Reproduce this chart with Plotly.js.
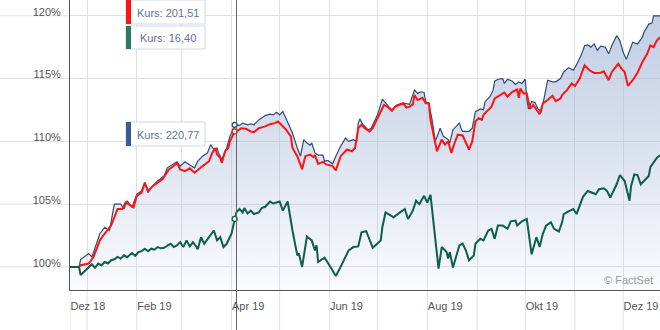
<!DOCTYPE html>
<html>
<head>
<meta charset="utf-8">
<script src="https://cdn.plot.ly/plotly-3.0.1.min.js"></script>
<style>html,body{margin:0;padding:0;background:#fff;}#chart{width:660px;height:330px;}</style>
</head>
<body>
<div id="chart"></div>
<script>
// ---- x axis ticks ----
const xRange = ['2018-12-21 09:00', '2019-12-24 00:00'];
const monthTicks = ['2018-12-21 09:00','2019-01-01','2019-02-01','2019-03-01','2019-04-01','2019-05-01','2019-06-01','2019-07-01','2019-08-01','2019-09-01','2019-10-01','2019-11-01','2019-12-01'];
const monthLabels = ['Dez 18','','Feb 19','','Apr 19','','Jun 19','','Aug 19','','Okt 19','','Dez 19'];
// ---- y axis ticks ----
const yRange = [98.16, 121.26];
const yTicks = [100, 105, 110, 115, 120];
const yLabels = ['100%', '105%', '110%', '115%', '120%'];

// ---- blue series (area) ----
const blueDates = ['2018-12-21','2018-12-27','2018-12-28','2019-01-02','2019-01-04','2019-01-07','2019-01-09','2019-01-12','2019-01-15','2019-01-18','2019-01-22','2019-01-24','2019-01-26','2019-01-29','2019-02-01','2019-02-04','2019-02-06','2019-02-08','2019-02-10','2019-02-14','2019-02-18','2019-02-20','2019-02-23','2019-02-26','2019-02-28','2019-03-03','2019-03-06','2019-03-09','2019-03-11','2019-03-14','2019-03-17','2019-03-19','2019-03-21','2019-03-23','2019-03-24','2019-03-26','2019-03-29','2019-03-31','2019-04-03','2019-04-04','2019-04-06','2019-04-08','2019-04-11','2019-04-13','2019-04-15','2019-04-18','2019-04-22','2019-04-25','2019-04-27','2019-04-29','2019-05-01','2019-05-03','2019-05-05','2019-05-09','2019-05-12','2019-05-14','2019-05-16','2019-05-18','2019-05-20','2019-05-21','2019-05-23','2019-05-25','2019-05-28','2019-05-29','2019-05-31','2019-06-03','2019-06-05','2019-06-08','2019-06-11','2019-06-13','2019-06-16','2019-06-18','2019-06-19','2019-06-20','2019-06-22','2019-06-25','2019-06-27','2019-07-01','2019-07-04','2019-07-06','2019-07-08','2019-07-10','2019-07-13','2019-07-16','2019-07-18','2019-07-21','2019-07-23','2019-07-24','2019-07-26','2019-07-28','2019-07-30','2019-07-31','2019-08-02','2019-08-04','2019-08-06','2019-08-09','2019-08-11','2019-08-14','2019-08-15','2019-08-17','2019-08-19','2019-08-21','2019-08-22','2019-08-23','2019-08-27','2019-08-29','2019-08-31','2019-09-03','2019-09-05','2019-09-06','2019-09-09','2019-09-11','2019-09-12','2019-09-14','2019-09-17','2019-09-18','2019-09-20','2019-09-23','2019-09-25','2019-09-27','2019-09-29','2019-10-01','2019-10-02','2019-10-03','2019-10-05','2019-10-07','2019-10-09','2019-10-11','2019-10-13','2019-10-15','2019-10-18','2019-10-20','2019-10-23','2019-10-25','2019-10-28','2019-10-31','2019-11-02','2019-11-05','2019-11-07','2019-11-09','2019-11-11','2019-11-13','2019-11-15','2019-11-17','2019-11-20','2019-11-22','2019-11-24','2019-11-27','2019-11-29','2019-12-01','2019-12-03','2019-12-05','2019-12-07','2019-12-10','2019-12-13','2019-12-14','2019-12-17','2019-12-19','2019-12-20','2019-12-24'];
const blueVals = [100.00,100.00,100.58,101.06,100.79,101.97,102.64,103.16,102.90,105.00,105.00,104.61,105.27,104.74,105.79,106.05,106.71,105.92,106.32,106.84,107.24,107.89,108.16,108.37,108.03,108.37,108.11,107.89,108.42,108.82,109.08,109.74,109.35,109.47,109.08,108.56,109.47,110.40,111.32,111.32,111.27,111.45,111.32,111.40,111.32,111.71,112.05,112.16,112.11,112.32,112.11,112.37,111.84,110.66,109.47,108.82,110.14,109.87,109.69,109.87,109.08,108.90,108.90,108.42,108.48,108.21,108.82,109.61,110.26,110.00,110.14,110.00,111.45,111.79,111.32,110.93,111.05,112.11,113.37,113.03,112.77,112.51,112.90,113.03,113.03,112.95,113.69,114.08,113.82,113.95,113.89,113.16,113.03,111.72,110.00,111.05,110.40,110.14,109.87,110.93,111.19,111.45,111.05,110.79,110.79,111.05,112.37,112.58,112.51,113.16,113.56,114.08,114.79,114.95,115.00,114.61,114.95,114.79,114.53,114.74,114.61,114.95,113.42,112.58,113.16,113.11,112.58,112.37,113.56,114.87,114.74,114.74,115.00,115.53,115.87,115.66,116.11,116.89,117.64,117.68,117.50,117.76,117.24,117.58,117.50,116.97,117.64,118.42,118.03,117.11,116.53,117.16,117.90,117.76,118.29,118.69,119.34,119.42,120.00,120.00];

// ---- red series ----
const redDates = ['2018-12-21','2018-12-27','2018-12-28','2019-01-02','2019-01-05','2019-01-09','2019-01-11','2019-01-14','2019-01-16','2019-01-20','2019-01-23','2019-01-25','2019-01-28','2019-01-30','2019-02-01','2019-02-04','2019-02-06','2019-02-08','2019-02-11','2019-02-14','2019-02-17','2019-02-21','2019-02-24','2019-02-26','2019-02-28','2019-03-03','2019-03-06','2019-03-09','2019-03-12','2019-03-14','2019-03-18','2019-03-20','2019-03-22','2019-03-23','2019-03-25','2019-03-26','2019-03-28','2019-03-30','2019-03-31','2019-04-02','2019-04-03','2019-04-05','2019-04-07','2019-04-10','2019-04-13','2019-04-15','2019-04-18','2019-04-22','2019-04-25','2019-04-28','2019-04-30','2019-05-02','2019-05-05','2019-05-08','2019-05-09','2019-05-12','2019-05-15','2019-05-17','2019-05-20','2019-05-22','2019-05-23','2019-05-25','2019-05-28','2019-05-30','2019-06-03','2019-06-05','2019-06-08','2019-06-12','2019-06-15','2019-06-17','2019-06-19','2019-06-21','2019-06-23','2019-06-26','2019-06-28','2019-07-02','2019-07-05','2019-07-07','2019-07-10','2019-07-12','2019-07-15','2019-07-17','2019-07-19','2019-07-21','2019-07-23','2019-07-24','2019-07-26','2019-07-29','2019-07-31','2019-08-02','2019-08-03','2019-08-07','2019-08-10','2019-08-12','2019-08-14','2019-08-16','2019-08-18','2019-08-20','2019-08-23','2019-08-27','2019-08-29','2019-08-31','2019-09-02','2019-09-04','2019-09-05','2019-09-08','2019-09-10','2019-09-12','2019-09-15','2019-09-18','2019-09-20','2019-09-23','2019-09-26','2019-09-27','2019-09-28','2019-09-30','2019-10-02','2019-10-04','2019-10-06','2019-10-08','2019-10-10','2019-10-12','2019-10-15','2019-10-18','2019-10-20','2019-10-23','2019-10-24','2019-10-27','2019-10-30','2019-11-01','2019-11-04','2019-11-07','2019-11-10','2019-11-13','2019-11-17','2019-11-19','2019-11-22','2019-11-24','2019-11-28','2019-11-30','2019-12-02','2019-12-04','2019-12-07','2019-12-10','2019-12-13','2019-12-16','2019-12-18','2019-12-20','2019-12-22','2019-12-24'];
const redVals = [100.00,100.00,100.13,100.27,100.79,102.11,102.50,103.03,103.29,104.61,104.61,105.13,104.87,104.74,105.66,105.92,106.71,106.05,106.45,106.71,106.98,107.77,108.03,108.29,107.77,107.63,107.85,107.50,107.85,108.03,108.42,109.08,109.47,108.95,108.68,108.29,109.21,109.47,110.00,110.53,110.79,110.85,111.05,111.00,110.79,110.74,111.05,111.19,111.37,111.45,111.58,111.32,110.93,110.40,109.47,108.82,107.77,108.82,108.95,108.74,108.90,108.21,108.37,108.16,108.03,107.69,108.82,109.35,109.21,109.47,111.05,111.32,111.05,110.79,111.05,112.11,112.90,112.77,112.43,112.77,112.90,113.03,112.69,112.77,112.95,113.69,113.29,113.47,113.03,113.03,111.72,109.21,110.14,109.74,110.00,109.08,109.87,110.53,110.47,109.35,110.00,111.58,111.84,111.72,112.11,112.51,112.77,113.42,113.69,113.89,113.56,113.95,114.13,113.47,114.21,113.82,113.82,112.58,112.90,112.51,112.16,113.03,113.29,113.63,113.21,113.42,113.69,114.08,114.61,114.40,115.00,116.06,115.66,115.45,115.47,115.58,114.87,115.53,116.18,115.79,115.53,114.42,114.87,115.47,116.32,116.97,117.64,117.50,118.03,118.29];

// ---- green series ----
const greenDates = ['2018-12-21','2018-12-27','2018-12-28','2019-01-02','2019-01-04','2019-01-06','2019-01-08','2019-01-10','2019-01-12','2019-01-14','2019-01-16','2019-01-18','2019-01-20','2019-01-22','2019-01-24','2019-01-26','2019-01-29','2019-01-31','2019-02-02','2019-02-04','2019-02-06','2019-02-08','2019-02-10','2019-02-12','2019-02-14','2019-02-16','2019-02-18','2019-02-22','2019-02-24','2019-02-26','2019-02-28','2019-03-02','2019-03-04','2019-03-06','2019-03-08','2019-03-10','2019-03-11','2019-03-13','2019-03-15','2019-03-18','2019-03-21','2019-03-23','2019-03-25','2019-03-27','2019-03-29','2019-04-01','2019-04-03','2019-04-04','2019-04-06','2019-04-08','2019-04-09','2019-04-11','2019-04-13','2019-04-15','2019-04-18','2019-04-20','2019-04-22','2019-04-25','2019-04-27','2019-05-01','2019-05-03','2019-05-06','2019-05-09','2019-05-12','2019-05-13','2019-05-15','2019-05-18','2019-05-21','2019-05-23','2019-05-24','2019-05-25','2019-05-29','2019-06-01','2019-06-05','2019-06-08','2019-06-13','2019-06-16','2019-06-19','2019-06-21','2019-06-24','2019-06-25','2019-06-28','2019-07-03','2019-07-04','2019-07-06','2019-07-11','2019-07-15','2019-07-18','2019-07-20','2019-07-23','2019-07-25','2019-07-27','2019-07-30','2019-08-01','2019-08-03','2019-08-08','2019-08-10','2019-08-13','2019-08-14','2019-08-15','2019-08-17','2019-08-19','2019-08-21','2019-08-23','2019-08-25','2019-08-27','2019-08-30','2019-08-31','2019-09-03','2019-09-05','2019-09-08','2019-09-10','2019-09-12','2019-09-14','2019-09-17','2019-09-20','2019-09-22','2019-09-25','2019-09-26','2019-09-29','2019-10-02','2019-10-05','2019-10-08','2019-10-10','2019-10-12','2019-10-14','2019-10-17','2019-10-19','2019-10-22','2019-10-24','2019-10-25','2019-10-28','2019-10-31','2019-11-02','2019-11-05','2019-11-06','2019-11-09','2019-11-11','2019-11-14','2019-11-16','2019-11-19','2019-11-21','2019-11-23','2019-11-27','2019-11-29','2019-12-02','2019-12-05','2019-12-06','2019-12-08','2019-12-10','2019-12-12','2019-12-14','2019-12-17','2019-12-18','2019-12-22','2019-12-24'];
const greenVals = [100.00,100.00,99.35,100.00,100.21,99.94,100.27,100.13,100.39,100.27,100.53,100.61,100.79,100.66,100.92,100.77,101.11,100.88,101.18,101.26,101.45,101.24,101.45,101.37,101.58,101.48,101.52,101.85,101.58,101.71,101.97,101.58,102.11,101.63,101.97,101.63,101.40,102.37,101.84,102.37,102.90,102.11,102.37,101.58,101.84,102.64,103.82,104.34,104.61,104.34,104.69,104.26,104.48,104.21,104.34,104.71,104.79,105.21,105.05,105.21,104.48,105.21,102.90,100.92,101.06,100.00,102.42,102.11,101.32,101.71,100.39,100.74,100.13,99.27,100.00,101.32,101.58,101.63,102.76,102.84,102.50,101.53,102.11,103.16,104.34,103.95,104.34,104.61,103.82,104.48,105.27,105.00,105.66,105.13,105.74,99.87,101.58,101.18,100.66,101.18,99.95,100.84,101.71,101.85,101.32,100.53,100.92,101.85,102.24,102.11,102.90,103.03,102.24,103.29,103.29,103.03,103.63,103.69,103.29,103.63,103.82,101.00,102.37,101.58,102.64,103.29,103.55,103.03,102.82,103.55,104.21,104.42,104.61,104.21,105.13,105.58,106.05,105.92,105.79,106.19,106.26,106.05,105.53,106.58,107.32,106.84,105.27,106.45,107.37,107.32,106.58,106.84,107.24,107.95,108.68,108.90];

// ---- hover state ----
const hoverDate = '2019-04-03';
const crosshairDate = '2019-04-04 03:00';
const hoverTexts = ['Kurs: 201,51', 'Kurs: 16,40', 'Kurs: 220,77'];
const sourceText = '\u00a9 FactSet';

const BLUE = '#2f4a78', RED = '#ff1414', GREEN = '#0d5e4a';
const GRID = '#e1e1e1', AXIS = '#555555', FONT = 'Liberation Sans, Arial, sans-serif';

const traces = [
  {x: blueDates, y: blueVals, type: 'scatter', mode: 'lines', fill: 'tozeroy',
   line: {color: BLUE, width: 1.2},
   fillgradient: {type: 'vertical', start: yRange[0], stop: 120.5,
     colorscale: [[0, 'rgba(170,188,218,0.06)'], [0.5, 'rgba(165,183,215,0.40)'], [1, 'rgba(160,180,214,0.68)']]},
   hoverinfo: 'skip'},
  {x: redDates, y: redVals, type: 'scatter', mode: 'lines', line: {color: RED, width: 2}, hoverinfo: 'skip'},
  {x: greenDates, y: greenVals, type: 'scatter', mode: 'lines', line: {color: GREEN, width: 2}, hoverinfo: 'skip'}
];
// hover markers at the hovered date, taken from the series
const markerSeries = [[blueDates, blueVals, BLUE], [redDates, redVals, RED], [greenDates, greenVals, GREEN]];
markerSeries.forEach(([d, v, c]) => {
  const i = d.indexOf(hoverDate);
  traces.push({x: [d[i]], y: [v[i]], type: 'scatter', mode: 'markers',
    marker: {size: 5, color: '#ffffff', line: {color: c, width: 1.3}}, hoverinfo: 'skip'});
});

const plotW = 590, plotH = 290, bottomExt = 40 / plotH, leftExt = 70 / plotW;
const shapes = [];
// vertical gridlines continue below the axis
monthTicks.forEach(t => shapes.push({type: 'line', xref: 'x', yref: 'paper', x0: t, x1: t, y0: -bottomExt, y1: 0,
  line: {color: GRID, width: 1}, layer: 'below'}));
// horizontal gridlines continue into the label margin
yTicks.forEach(v => shapes.push({type: 'line', xref: 'paper', yref: 'y', x0: -leftExt, x1: 0, y0: v, y1: v,
  line: {color: GRID, width: 1}, layer: 'below'}));
// crosshair
shapes.push({type: 'line', xref: 'x', yref: 'paper', x0: crosshairDate, x1: crosshairDate, y0: -bottomExt, y1: 1,
  line: {color: '#666666', width: 1}});

// hover boxes (paper coordinates)
const px = v => (v - 70) / plotW, py = v => (plotH - v) / plotH;
const boxes = [[0, 24, RED], [26, 49, '#2e7a60'], [122, 146, '#3d5b91']];
const annotations = [];
boxes.forEach(([t, b, c], k) => {
  shapes.push({type: 'rect', xref: 'paper', yref: 'paper', x0: px(126), x1: px(205), y0: py(b), y1: py(t),
    fillcolor: '#ffffff', line: {color: '#cfd8e8', width: 1}});
  shapes.push({type: 'rect', xref: 'paper', yref: 'paper', x0: px(126), x1: px(131), y0: py(b), y1: py(t),
    fillcolor: c, line: {width: 0}});
  annotations.push({xref: 'paper', yref: 'paper', x: px(168), y: py((t + b) / 2 + 0.5), text: hoverTexts[k],
    showarrow: false, xanchor: 'center', yanchor: 'middle', font: {family: FONT, size: 11, color: '#5f7299'}});
});
annotations.push({xref: 'paper', yref: 'paper', x: px(655), y: py(280), text: sourceText, showarrow: false,
  xanchor: 'right', yanchor: 'middle', font: {family: FONT, size: 11, color: '#9a9a9a'}});

const layout = {
  width: 660, height: 330,
  margin: {l: 70, r: 0, t: 0, b: 40, pad: 0},
  paper_bgcolor: '#ffffff', plot_bgcolor: '#ffffff',
  showlegend: false, hovermode: false,
  font: {family: FONT, size: 11, color: AXIS},
  xaxis: {type: 'date', range: xRange, tickmode: 'array', tickvals: monthTicks, ticktext: monthLabels,
    showgrid: true, gridcolor: GRID, gridwidth: 1, zeroline: false,
    showline: true, linecolor: AXIS, linewidth: 1, ticks: '',
    ticklabelposition: 'outside right', ticklabelstandoff: 6,
    tickfont: {family: FONT, size: 11, color: AXIS}, fixedrange: true},
  yaxis: {range: yRange, tickmode: 'array', tickvals: yTicks, ticktext: yLabels,
    showgrid: true, gridcolor: GRID, gridwidth: 1, zeroline: false,
    showline: true, linecolor: AXIS, linewidth: 1, ticks: '',
    ticklabelstandoff: 6, ticklabelshift: -4,
    tickfont: {family: FONT, size: 11, color: AXIS}, fixedrange: true},
  shapes: shapes,
  annotations: annotations
};

Plotly.newPlot('chart', traces, layout, {displayModeBar: false, staticPlot: true});
</script>
</body>
</html>
